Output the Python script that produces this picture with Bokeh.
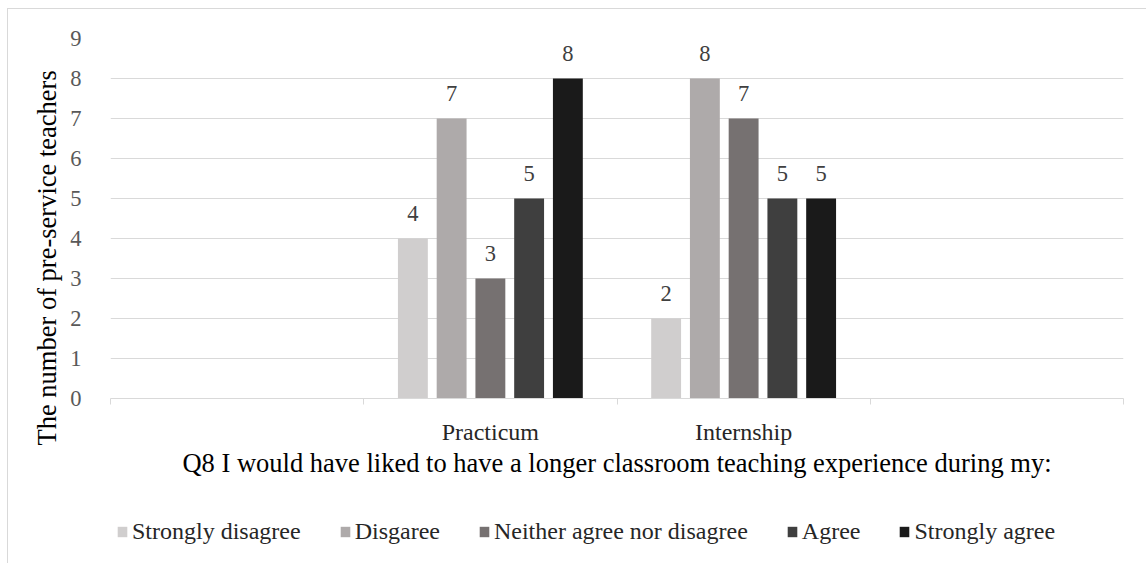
from bokeh.plotting import figure
from bokeh.layouts import column
from bokeh.models import FixedTicker, ColumnDataSource, Legend, LegendItem, Title
from bokeh.core.properties import value
from bokeh.embed import file_html
from bokeh.resources import INLINE

# Survey responses (Q8) per teaching-experience setting
groups = ["Practicum", "Internship"]
responses = ["Strongly disagree", "Disgaree", "Neither agree nor disagree",
             "Agree", "Strongly agree"]
practicum_counts = [4, 7, 3, 5, 8]
internship_counts = [2, 8, 7, 5, 5]

# Category axis slots (blank slots on both sides) and value-axis ticks
x_slot_labels = ["", "Practicum", "Internship", ""]
y_tick_values = [0, 1, 2, 3, 4, 5, 6, 7, 8, 9]

y_axis_title = "The number of pre-service teachers"
x_axis_title = "Q8 I would have liked to have a longer classroom teaching experience during my:"

colors = ["#D0CECE", "#AEAAAA", "#767171", "#3F3F3F", "#1A1A1A"]

FONT = "Liberation Serif"
GRID = "#D9D9D9"
W = 1138

n_slots = len(x_slot_labels)
slot_centers = [i + 0.5 for i in range(n_slots)]
group_centers = [x_slot_labels.index(g) + 0.5 for g in groups]
counts_by_group = [practicum_counts, internship_counts]

pitch = 0.153     # distance between neighbouring bars, in category units
bar_width = 0.118

p = figure(width=W, height=479,
           x_range=(0, n_slots), y_range=(0, max(y_tick_values)),
           output_backend="svg", toolbar_location=None,
           min_border_left=102, min_border_right=23,
           min_border_top=29, min_border_bottom=90)
p.outline_line_color = None
p.background_fill_color = "white"
p.border_fill_color = "white"

label_x, label_y, label_text = [], [], []
for k, col in enumerate(colors):
    xs = [c + (k - 2) * pitch for c in group_centers]
    tops = [counts[k] for counts in counts_by_group]
    src = ColumnDataSource(dict(x=xs, top=tops))
    p.vbar(x="x", top="top", bottom=0, width=bar_width, source=src,
           fill_color=col, line_color=None)
    label_x += xs
    label_y += tops
    label_text += [str(t) for t in tops]

p.text(x=label_x, y=label_y, text=label_text,
       text_font=value(FONT), text_font_size="22.5px", text_color="#404040",
       text_align="center", text_baseline="alphabetic", y_offset=-25)

# value axis
yax = p.yaxis[0]
yax.ticker = FixedTicker(ticks=y_tick_values)
yax.axis_line_color = None
yax.major_tick_line_color = None
yax.minor_tick_line_color = None
yax.major_label_text_font = FONT
yax.major_label_text_font_size = "22.5px"
yax.major_label_text_color = "#595959"
yax.major_label_standoff = 23

# vertical axis title, starting a little below the bottom of the plot area
p.add_layout(Title(text=y_axis_title, text_font=FONT, text_font_size="26.5px",
                   text_font_style="normal", text_color="#000000",
                   align="left", offset=-47, standoff=12), "left")

# category axis
xax = p.xaxis[0]
xax.ticker = FixedTicker(ticks=slot_centers, minor_ticks=list(range(n_slots + 1)))
xax.major_label_overrides = {c: lbl for c, lbl in zip(slot_centers, x_slot_labels)}
xax.axis_line_color = GRID
xax.major_tick_line_color = None
xax.major_tick_out = 0
xax.minor_tick_line_color = GRID
xax.minor_tick_in = 0
xax.minor_tick_out = 6
xax.major_label_text_font = FONT
xax.major_label_text_font_size = "24px"
xax.major_label_text_color = "#262626"
xax.major_label_standoff = 14
xax.axis_label = x_axis_title
xax.axis_label_text_font = FONT
xax.axis_label_text_font_size = "26.5px"
xax.axis_label_text_font_style = "normal"
xax.axis_label_text_color = "#000000"
xax.axis_label_standoff = 0

p.xgrid.grid_line_color = None
p.ygrid.ticker = FixedTicker(ticks=y_tick_values)
p.ygrid.grid_line_color = GRID
p.ygrid.grid_line_width = 1

# legend strip underneath the chart (its plot frame lines up with the chart's)
lg = figure(width=W, height=75, output_backend="svg", toolbar_location=None,
            x_axis_type=None, y_axis_type=None,
            min_border_left=0, min_border_right=0,
            min_border_top=0, min_border_bottom=0)
lg.outline_line_color = None
lg.grid.grid_line_color = None
lg.background_fill_color = "white"
lg.border_fill_color = "white"
items = []
for resp, col in zip(responses, colors):
    # zero-size swatch carrier, only used for the legend key
    key_src = ColumnDataSource(dict(x=[0], top=[0]))
    r = lg.vbar(x="x", top="top", bottom=0, width=0, source=key_src,
                fill_color=col, line_color=None)
    items.append(LegendItem(label=resp, renderers=[r]))
leg = Legend(items=items, orientation="horizontal", location=(6, 18),
             label_text_font=FONT, label_text_font_size="24px",
             label_text_color="#262626", glyph_width=12, glyph_height=13,
             label_standoff=4, spacing=38, padding=0, margin=0,
             border_line_color=None, background_fill_alpha=0)
lg.add_layout(leg, "center")

layout = column(p, lg, spacing=0,
                styles={"margin-left": "7px", "margin-top": "8px",
                        "border-left": "1px solid #D9D9D9",
                        "border-top": "1px solid #D9D9D9"})

open("out.html", "w").write(file_html(layout, INLINE))
